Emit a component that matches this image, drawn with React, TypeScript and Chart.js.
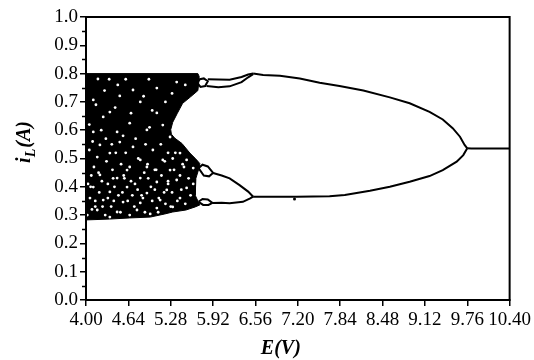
import React, { useEffect, useRef } from "react";
import { Chart, registerables } from "chart.js";

Chart.register(...registerables);

// ---------- data ----------
const xTicks = [4.0, 4.64, 5.28, 5.92, 6.56, 7.2, 7.84, 8.48, 9.12, 9.76, 10.4];
const yTicks = [0, 0.1, 0.2, 0.3, 0.4, 0.5, 0.6, 0.7, 0.8, 0.9, 1.0];
const yMinorTicks = [0.05, 0.15, 0.25, 0.35, 0.45, 0.55, 0.65, 0.75, 0.85, 0.95];

// chaotic band outline (E, iL)
const chaosE = [4.0, 5.69, 5.71, 5.7, 5.69, 5.58, 5.46, 5.38, 5.31, 5.28, 5.29, 5.34, 5.45, 5.57, 5.66, 5.72, 5.7, 5.66, 5.65, 5.7, 5.72, 5.65, 5.51, 5.31, 5.19, 4.97, 4.66, 4.36, 4.0];
const chaosI = [0.8, 0.8, 0.79, 0.76, 0.74, 0.718, 0.695, 0.66, 0.628, 0.602, 0.586, 0.572, 0.553, 0.519, 0.498, 0.482, 0.46, 0.43, 0.37, 0.345, 0.336, 0.329, 0.318, 0.311, 0.304, 0.293, 0.29, 0.286, 0.283];

// white gaps inside the chaotic band
const speckE = [4.18, 4.48, 4.71, 5.07, 5.37, 4.11, 4.82, 4.51, 4.36, 5.07, 4.26, 4.66, 5.16, 4.11, 4.47, 4.92, 5.27, 4.21, 4.51, 4.71, 5.01, 5.42, 4.17, 4.36, 4.82, 5.16, 5.52, 4.62, 4.92, 5.27, 5.62, 4.21, 4.47, 4.82, 5.07, 5.37, 4.11, 4.36, 4.62, 4.92, 5.22, 5.52, 4.26, 4.56, 4.82, 5.12, 5.42, 4.17, 4.47, 4.77, 5.07, 5.31, 4.36, 4.66, 4.97, 4.05, 4.05, 4.08, 4.06, 4.12, 4.3, 4.4, 4.55, 4.7, 4.88, 4.98, 5.1, 5.2, 5.3, 5.42, 4.25, 4.6, 4.45, 4.9, 5.35, 4.15, 4.6, 4.95, 5.2, 5.45, 4.03, 4.14, 4.33, 4.42, 4.58, 4.74, 4.86, 5.04, 5.24, 5.48,
  4.02, 4.09, 4.14, 4.2, 4.24, 4.29, 4.33, 4.38, 4.43, 4.49, 4.52, 4.57, 4.63, 4.68, 4.73, 4.78, 4.84, 4.89, 4.94, 5.0, 5.04, 5.09, 5.14, 5.18, 5.24, 5.28, 5.33, 5.38, 5.44, 5.5, 5.55, 5.58, 5.62, 4.07, 4.19, 4.31, 4.41, 4.53, 4.66, 4.79, 4.93, 5.06, 5.19, 5.31, 5.46, 4.1, 4.23, 4.39, 4.56, 4.75, 4.96, 5.13, 5.24, 4.28, 4.44, 4.68, 4.87, 5.0, 5.3, 5.5, 4.35];
const speckI = [0.781, 0.76, 0.742, 0.749, 0.77, 0.707, 0.7, 0.721, 0.664, 0.661, 0.647, 0.625, 0.618, 0.594, 0.594, 0.601, 0.576, 0.548, 0.558, 0.541, 0.53, 0.519, 0.505, 0.519, 0.495, 0.495, 0.495, 0.459, 0.47, 0.459, 0.466, 0.442, 0.431, 0.431, 0.417, 0.424, 0.399, 0.382, 0.399, 0.378, 0.389, 0.396, 0.353, 0.346, 0.343, 0.353, 0.36, 0.318, 0.311, 0.318, 0.325, 0.329, 0.293, 0.3, 0.304, 0.62, 0.53, 0.44, 0.36, 0.47, 0.57, 0.46, 0.38, 0.37, 0.45, 0.4, 0.36, 0.34, 0.38, 0.44, 0.33, 0.52, 0.52, 0.55, 0.52, 0.69, 0.78, 0.78, 0.7, 0.63, 0.41, 0.33, 0.41, 0.35, 0.43, 0.41, 0.36, 0.46, 0.42, 0.47,
  0.3, 0.32, 0.35, 0.38, 0.42, 0.3, 0.36, 0.33, 0.4, 0.37, 0.31, 0.44, 0.35, 0.42, 0.33, 0.39, 0.37, 0.31, 0.43, 0.35, 0.39, 0.31, 0.44, 0.38, 0.41, 0.33, 0.46, 0.35, 0.39, 0.34, 0.43, 0.37, 0.41, 0.4, 0.45, 0.49, 0.43, 0.48, 0.47, 0.5, 0.48, 0.46, 0.49, 0.5, 0.48, 0.56, 0.6, 0.55, 0.58, 0.57, 0.61, 0.55, 0.52, 0.74, 0.68, 0.66, 0.72, 0.67, 0.73, 0.76, 0.78];

// period-8 bubbles and period-4 branches
const topBubbleE = [5.68, 5.72, 5.78, 5.84, 5.8, 5.73, 5.68];
const topBubbleI = [0.767, 0.78, 0.783, 0.773, 0.756, 0.753, 0.767];
const upperOuterE = [5.84, 6.0, 6.17, 6.35, 6.45, 6.525];
const upperOuterI = [0.78, 0.779, 0.778, 0.788, 0.797, 0.8];
const upperInnerE = [5.82, 6.0, 6.17, 6.35, 6.45, 6.525];
const upperInnerI = [0.756, 0.752, 0.755, 0.77, 0.787, 0.798];
const midBubbleE = [5.7, 5.76, 5.84, 5.92, 5.86, 5.78, 5.7];
const midBubbleI = [0.466, 0.478, 0.472, 0.449, 0.437, 0.44, 0.466];
const lowBubbleE = [5.7, 5.76, 5.84, 5.91, 5.85, 5.77, 5.7];
const lowBubbleI = [0.347, 0.357, 0.355, 0.343, 0.336, 0.336, 0.347];
const bigUpperE = [5.92, 6.05, 6.17, 6.32, 6.45, 6.5, 6.525];
const bigUpperI = [0.449, 0.44, 0.43, 0.406, 0.383, 0.371, 0.365];
const bigLowerE = [5.91, 6.05, 6.17, 6.37, 6.48, 6.525];
const bigLowerI = [0.343, 0.344, 0.342, 0.347, 0.359, 0.365];

// period-2 branches and period-1 line
const p2UpperE = [6.525, 6.676, 6.93, 7.23, 7.53, 7.83, 8.19, 8.59, 8.89, 9.19, 9.39, 9.54, 9.65, 9.72, 9.76];
const p2UpperI = [0.8, 0.795, 0.792, 0.783, 0.768, 0.756, 0.74, 0.716, 0.695, 0.665, 0.638, 0.607, 0.577, 0.548, 0.536];
const p2LowerE = [6.525, 6.7, 7.18, 7.68, 7.91, 8.29, 8.59, 8.89, 9.19, 9.39, 9.6, 9.7, 9.76];
const p2LowerI = [0.365, 0.365, 0.365, 0.367, 0.371, 0.386, 0.4, 0.418, 0.438, 0.459, 0.489, 0.512, 0.536];
const p1E = [9.76, 9.82, 10.4];
const p1I = [0.536, 0.535, 0.535];
const dotE = [7.15];
const dotI = [0.357];

const X_TITLE = "E(V)";
const Y_TITLE_MAIN = "i";
const Y_TITLE_SUB = "L";
const Y_TITLE_REST = "(A)";

const SERIF = "'Liberation Serif', 'Times New Roman', serif";

const pts = (xs: number[], ys: number[]) => xs.map((x, i) => ({ x, y: ys[i] }));

const branch = (xs: number[], ys: number[]) => ({
  data: pts(xs, ys),
  showLine: true,
  borderColor: "#000",
  borderWidth: 2,
  pointRadius: 0,
  fill: false,
  tension: 0,
  order: 1,
});

const decorPlugin = {
  id: "decor",
  afterDatasetsDraw(chart: any) {
    const { ctx, chartArea } = chart;
    const { left, right, top, bottom } = chartArea;
    const yScale = chart.scales.y;
    ctx.save();
    ctx.strokeStyle = "#000";
    ctx.lineWidth = 2;
    ctx.strokeRect(left, top, right - left, bottom - top);
    ctx.lineWidth = 1.5;
    ctx.beginPath();
    for (const v of yMinorTicks) {
      const py = Math.round(yScale.getPixelForValue(v)) + 0.5;
      ctx.moveTo(left - 4, py);
      ctx.lineTo(left, py);
    }
    ctx.stroke();
    ctx.restore();
  },
  afterDraw(chart: any) {
    const { ctx, chartArea } = chart;
    const { left, right, top, bottom } = chartArea;
    ctx.save();
    ctx.fillStyle = "#000";
    ctx.font = `italic bold 20px ${SERIF}`;
    ctx.textAlign = "center";
    ctx.textBaseline = "alphabetic";
    ctx.fillText(X_TITLE, (left + right) / 2 - 17, bottom + 54);

    // y title, rotated
    const cx = left - 56;
    const cy = (top + bottom) / 2 - 16;
    ctx.translate(cx, cy);
    ctx.rotate(-Math.PI / 2);
    ctx.textAlign = "left";
    const mainFont = `italic bold 20px ${SERIF}`;
    const subFont = `italic bold 14px ${SERIF}`;
    ctx.font = mainFont;
    const w1 = ctx.measureText(Y_TITLE_MAIN).width;
    const w3 = ctx.measureText(Y_TITLE_REST).width;
    ctx.font = subFont;
    const w2 = ctx.measureText(Y_TITLE_SUB).width;
    let x = -(w1 + w2 + w3) / 2;
    ctx.font = mainFont;
    ctx.fillText(Y_TITLE_MAIN, x, 0);
    x += w1;
    ctx.font = subFont;
    ctx.fillText(Y_TITLE_SUB, x, 5);
    x += w2 + 1;
    ctx.font = mainFont;
    ctx.fillText(Y_TITLE_REST, x, 0);
    ctx.restore();
  },
};

export default function App() {
  const ref = useRef<HTMLCanvasElement | null>(null);

  useEffect(() => {
    if (!ref.current) return;
    const chart = new Chart(ref.current, {
      type: "scatter",
      data: {
        datasets: [
          {
            data: pts(chaosE, chaosI),
            showLine: true,
            borderColor: "#000",
            borderWidth: 1,
            backgroundColor: "#000",
            pointRadius: 0,
            fill: "shape",
            tension: 0,
            order: 10,
          } as any,
          {
            data: pts(speckE, speckI),
            showLine: false,
            pointRadius: 1.4,
            pointBackgroundColor: "#fff",
            pointBorderWidth: 0,
            pointBorderColor: "#fff",
            order: 9,
          } as any,
          branch(topBubbleE, topBubbleI),
          branch(upperOuterE, upperOuterI),
          branch(upperInnerE, upperInnerI),
          branch(midBubbleE, midBubbleI),
          branch(lowBubbleE, lowBubbleI),
          branch(bigUpperE, bigUpperI),
          branch(bigLowerE, bigLowerI),
          branch(p2UpperE, p2UpperI),
          branch(p2LowerE, p2LowerI),
          branch(p1E, p1I),
          {
            data: pts(dotE, dotI),
            showLine: false,
            pointRadius: 1.5,
            pointBackgroundColor: "#000",
            pointBorderWidth: 0,
            order: 1,
          } as any,
        ],
      },
      options: {
        responsive: false,
        animation: false,
        devicePixelRatio: 1,
        layout: { padding: { top: 17, right: 24, left: 0, bottom: 0 } },
        plugins: {
          legend: { display: false },
          tooltip: { enabled: false },
        },
        scales: {
          x: {
            type: "linear",
            min: 4,
            max: 10.4,
            afterBuildTicks: (axis: any) => {
              axis.ticks = xTicks.map((v) => ({ value: v }));
            },
            afterFit: (axis: any) => {
              axis.height = 60;
            },
            ticks: {
              color: "#000",
              padding: 3,
              maxRotation: 0,
              autoSkip: false,
              font: { family: SERIF, size: 19 },
              callback: (v: any) => Number(v).toFixed(2),
            },
            grid: {
              drawOnChartArea: false,
              drawTicks: true,
              tickLength: 6,
              color: "#000",
              lineWidth: 1.5,
            },
            border: { display: true, color: "#000", width: 2 },
          },
          y: {
            type: "linear",
            min: 0,
            max: 1,
            afterBuildTicks: (axis: any) => {
              axis.ticks = yTicks.map((v) => ({ value: v }));
            },
            afterFit: (axis: any) => {
              axis.width = 86;
            },
            ticks: {
              color: "#000",
              padding: 2,
              autoSkip: false,
              font: { family: SERIF, size: 19 },
              callback: (v: any) => Number(v).toFixed(1),
            },
            grid: {
              drawOnChartArea: false,
              drawTicks: true,
              tickLength: 6,
              color: "#000",
              lineWidth: 1.5,
            },
            border: { display: true, color: "#000", width: 2 },
          },
        },
      } as any,
      plugins: [decorPlugin],
    });
    return () => chart.destroy();
  }, []);

  return (
    <div style={{ position: "fixed", left: 0, top: 0, width: 534, height: 360, background: "#fff" }}>
      <canvas ref={ref} width={534} height={360} style={{ display: "block" }} />
    </div>
  );
}
